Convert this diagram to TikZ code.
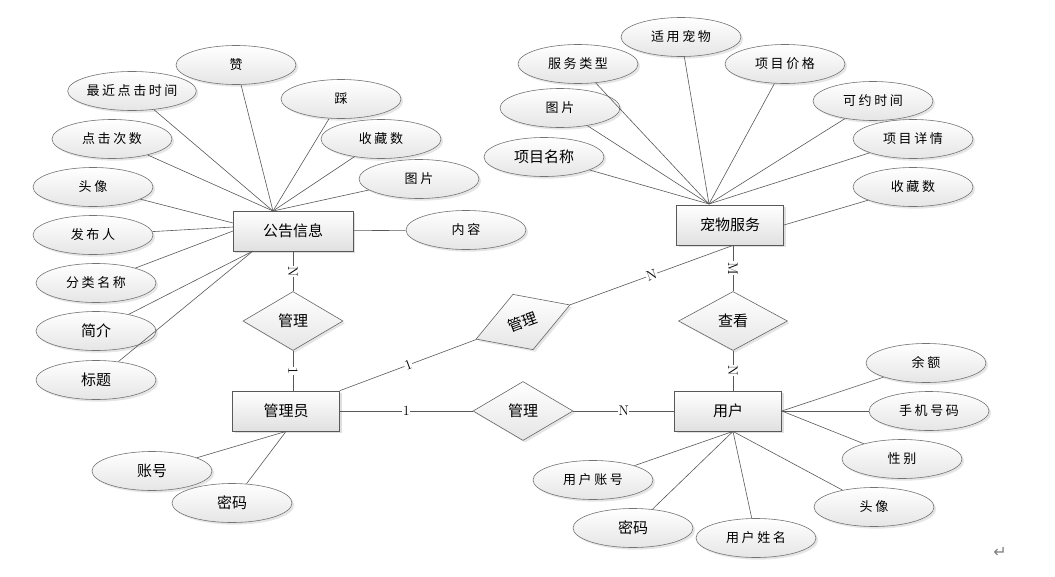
\documentclass[tikz,border=0pt]{standalone}
\usepackage{fontspec}
\usepackage{tikz}
\usetikzlibrary{shapes.geometric, shadows}
\newfontfamily\cjk{Noto Sans CJK SC}
\newfontfamily\cjkwide[LetterSpace=20]{Noto Sans CJK SC}
\newfontfamily\symfont{DejaVu Sans}

\begin{document}
\begin{tikzpicture}[x=1pt, y=-1pt,
  entity/.style={draw=black!65, line width=0.8pt, minimum width=107pt, minimum height=40pt, top color=white, bottom color=black!12, drop shadow={opacity=0.25}, font=\cjk\fontsize{15}{15}\selectfont},
  attr/.style={ellipse, draw=black!55, line width=0.6pt, minimum width=120pt, minimum height=39pt, inner sep=0pt, top color=white, bottom color=black!10, drop shadow={opacity=0.2}, font=\cjkwide\fontsize{13}{13}\selectfont},
  attrn/.style={attr, font=\cjk\fontsize{15}{15}\selectfont},
  rel/.style={diamond, draw=black!60, line width=0.6pt, minimum width=100pt, minimum height=59pt, inner sep=0pt, top color=white, bottom color=black!10, drop shadow={opacity=0.2}, font=\cjk\fontsize{15}{15}\selectfont},
  link/.style={draw=black!65, line width=0.6pt},
  card/.style={midway, sloped, fill=white, inner sep=0.6pt, font=\fontsize{14}{14}\selectfont}
]
  \fill[white] (0,0) rectangle (1055,576);
  \useasboundingbox (0,0) rectangle (1055,576);

  % announcement
  \node[entity, minimum width=120pt] (info) at (293,231) {公告信息};
  \node[attr] (zan) at (236,65) {赞};
  \node[attr] (recent) at (132,91) {最近点击时间};
  \node[attr] (cai) at (341,99) {踩};
  \node[attr] (clicks) at (112,139) {点击次数};
  \node[attr] (fav) at (381,139) {收藏数};
  \node[attr] (pic) at (419,179) {图片};
  \node[attr] (avatar) at (93,187) {头像};
  \node[attr] (author) at (93,235) {发布人};
  \node[attr] (content) at (466,230) {内容};
  \node[attr] (category) at (96,283) {分类名称};
  \node[attrn] (intro) at (96,331) {简介};
  \node[attrn] (title) at (96,380) {标题};

  \coordinate (infotop) at (273,211);
  \coordinate (infolow) at (253,251);
  \coordinate (infol1) at (233,223);
  \coordinate (infol2) at (233,227);
  \coordinate (infol3) at (233,231);
  \foreach \a in {zan,recent,cai,clicks,fav,pic}
    \draw[link] (\a) -- (infotop);
  \draw[link] (avatar) -- (infol1);
  \draw[link] (author) -- (infol2);
  \draw[link] (category) -- (infol3);
  \draw[link] (intro) -- (infolow);
  \draw[link] (title) -- (infolow);
  \draw[link] (content) -- (info);

  % admin
  \node[entity] (admin) at (286,411) {管理员};
  \node[attrn] (account) at (152,471) {账号};
  \node[attrn] (pwd) at (232,503) {密码};
  \draw[link] (account) -- (admin.south);
  \draw[link] (pwd) -- (admin.south);

  % pet service
  \node[entity] (pet) at (730,225) {宠物服务};
  \node[attrn] (pname) at (544,157) {项目名称};
  \node[attr] (ppic) at (560,108) {图片};
  \node[attr] (ptype) at (578,64) {服务类型};
  \node[attr] (suit) at (681,37) {适用宠物};
  \node[attr] (price) at (785,64) {项目价格};
  \node[attr] (slot) at (873,101) {可约时间};
  \node[attr] (detail) at (913,139) {项目详情};
  \node[attr] (pfav) at (913,187) {收藏数};
  \coordinate (pettop) at (709,204);
  \foreach \a in {pname,ppic,ptype,suit,price,slot,detail}
    \draw[link] (\a) -- (pettop);
  \draw[link] (pfav) -- (pet.east);

  % user
  \node[entity] (user) at (728,411) {用户};
  \node[attr] (balance) at (926,363) {余额};
  \node[attr] (phone) at (929,411) {手机号码};
  \node[attr] (gender) at (902,459) {性别};
  \node[attr] (uavatar) at (874,507) {头像};
  \node[attr] (uacc) at (593,480) {用户账号};
  \node[attrn] (upwd) at (633,528) {密码};
  \node[attr] (uname) at (756,538) {用户姓名};

  % relations
  \node[rel] (manage1) at (293,321) {管理};
  \node[rel, rotate=20] (manage2) at (523,322) {管理};
  \node[rel] (manage3) at (523,411) {管理};
  \node[rel, minimum width=109pt] (view) at (733,321) {查看};

  \foreach \a in {balance,phone,gender}
    \draw[link] (\a) -- (user.east);
  \foreach \a in {uavatar,uacc,upwd,uname}
    \draw[link] (\a) -- (view |- user.south);

  \draw[link] (info) -- node[card] {N} (manage1);
  \draw[link] (manage1) -- node[card] {1} (manage1 |- admin.north);
  \draw[link] (admin.north east) -- node[card] {1} (manage2);
  \draw[link] (manage2) -- node[card] {N} (view |- pet.south);
  \draw[link] (admin) -- node[card] {1} (manage3);
  \draw[link] (manage3) -- node[card] {N} (user);
  \draw[link] (view |- pet.south) -- node[card] {M} (view);
  \draw[link] (view) -- node[card] {N} (view |- user.north);

  \node[text=black!50, font=\symfont\fontsize{16}{16}\selectfont] (ret) at (1000,552) {↵};
\end{tikzpicture}
\end{document}
